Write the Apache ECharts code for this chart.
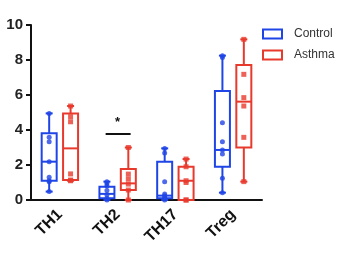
<!DOCTYPE html>
<html><head><meta charset="utf-8">
<script src="https://cdn.jsdelivr.net/npm/echarts@6/dist/echarts.min.js"></script>
<style>html,body{margin:0;padding:0;background:#fff}#c{width:345px;height:256px}</style>
</head><body><div id="c"></div>
<script>
const categories = ['TH1', 'TH2', 'TH17', 'Treg'];
// [min, Q1, median, Q3, max]
const controlStats = [
  [0.48, 1.1, 2.19, 3.81, 4.95],
  [0, 0.1, 0.35, 0.76, 1.05],
  [0, 0.1, 0.25, 2.19, 2.95],
  [0.42, 1.9, 2.86, 6.23, 8.25]
];
const asthmaStats = [
  [1.1, 1.14, 2.95, 4.95, 5.37],
  [0, 0.57, 0.95, 1.77, 3.0],
  [0, 0, 1.1, 1.9, 2.34],
  [1.05, 3.0, 5.62, 7.71, 9.18]
];
const controlPoints = [
  [4.95, 3.58, 3.33, 2.19, 1.3, 1.1, 1.05, 0.48],
  [1.05, 0.95, 0.8, 0.55, 0.3, 0.1, 0],
  [2.95, 2.68, 1.05, 0.35, 0.25, 0.15, 0.1, 0],
  [8.25, 8.15, 4.42, 3.33, 2.86, 2.63, 1.24, 0.42]
];
const asthmaPoints = [
  [5.37, 4.76, 4.47, 1.49, 1.14, 1.1],
  [3.0, 1.48, 1.2, 0.91, 0.57, 0],
  [2.34, 1.9, 1.1, 1.0, 0, 0],
  [9.18, 7.18, 5.85, 5.37, 3.58, 1.05]
];
const yTicks = [0, 2, 4, 6, 8, 10];
// significance annotation: [categoryIndex, barValue, label]
const sigMarks = [[1, 3.77, '*']];

const BLUE = '#1f45e6', RED = '#e8392d';
const OFF = 10.7;

function boxRenderer(offset, color) {
  return function (params, api) {
    const cat = api.value(0);
    const mn = api.value(1), q1 = api.value(2), md = api.value(3), q3 = api.value(4), mx = api.value(5);
    const cx = api.coord([cat, 0])[0] + offset;
    const y = v => api.coord([cat, v])[1];
    const hw = 7.5, cap = 3.5;
    const ls = { stroke: color, lineWidth: 2, fill: null };
    return {
      type: 'group',
      children: [
        { type: 'rect', shape: { x: cx - hw, y: y(q3), width: 2 * hw, height: Math.max(y(q1) - y(q3), 0.5) }, style: { stroke: color, lineWidth: 2, fill: 'none' } },
        { type: 'line', shape: { x1: cx - hw, y1: y(md), x2: cx + hw, y2: y(md) }, style: ls },
        { type: 'line', shape: { x1: cx, y1: y(q3), x2: cx, y2: y(mx) }, style: ls },
        { type: 'line', shape: { x1: cx, y1: y(q1), x2: cx, y2: y(mn) }, style: ls },
        { type: 'line', shape: { x1: cx - cap, y1: y(mx), x2: cx + cap, y2: y(mx) }, style: ls },
        { type: 'line', shape: { x1: cx - cap, y1: y(mn), x2: cx + cap, y2: y(mn) }, style: ls }
      ]
    };
  };
}

function pts(arr) {
  const out = [];
  arr.forEach((vals, i) => vals.forEach(v => out.push([i, v])));
  return out;
}

const chart = echarts.init(document.getElementById('c'), null, { renderer: 'canvas' });
chart.setOption({
  animation: false,
  grid: { left: 31, right: 83, top: 25, bottom: 56 },
  legend: {
    orient: 'vertical', left: 262, top: 28, itemGap: 9, padding: 0,
    itemWidth: 19, itemHeight: 9,
    textStyle: { fontFamily: 'Liberation Sans, Arial', fontSize: 12, color: '#333', padding: [0, 0, 0, 7] },
    data: [
      { name: 'Control', icon: 'rect', itemStyle: { color: '#fff', borderColor: BLUE, borderWidth: 2 } },
      { name: 'Asthma', icon: 'rect', itemStyle: { color: '#fff', borderColor: RED, borderWidth: 2 } }
    ]
  },
  xAxis: {
    type: 'category', data: categories,
    axisLine: { lineStyle: { color: '#111', width: 2 } },
    axisTick: { alignWithLabel: true, length: 5, lineStyle: { color: '#111', width: 2 } },
    axisLabel: { rotate: 45, margin: 12, fontFamily: 'Liberation Sans, Arial', fontWeight: 'bold', fontSize: 16, color: '#111' },
    splitLine: { show: false }
  },
  yAxis: {
    type: 'value', min: 0, max: 10, interval: 2,
    axisLine: { show: true, lineStyle: { color: '#111', width: 2 } },
    axisTick: { show: true, length: 5, lineStyle: { color: '#111', width: 2 } },
    axisLabel: { margin: 8, fontFamily: 'Liberation Sans, Arial', fontWeight: 'bold', fontSize: 15, color: '#222',
      formatter: v => yTicks.indexOf(v) >= 0 ? String(v) : '' },
    splitLine: { show: false }
  },
  series: [
    { name: 'Control', type: 'custom', itemStyle: { color: '#fff', borderColor: BLUE }, renderItem: boxRenderer(-OFF, BLUE),
      encode: { x: 0, y: [1, 2, 3, 4, 5] },
      data: controlStats.map((s, i) => [i].concat(s)), z: 2 },
    { name: 'Asthma', type: 'custom', itemStyle: { color: '#fff', borderColor: RED }, renderItem: boxRenderer(OFF, RED),
      encode: { x: 0, y: [1, 2, 3, 4, 5] },
      data: asthmaStats.map((s, i) => [i].concat(s)), z: 2 },
    { name: 'Control', type: 'scatter', symbol: 'circle', symbolSize: 5, symbolOffset: [-OFF, 0],
      itemStyle: { color: BLUE }, data: pts(controlPoints), z: 3 },
    { name: 'Asthma', type: 'scatter', symbol: 'rect', symbolSize: 5, symbolOffset: [OFF, 0],
      itemStyle: { color: RED }, data: pts(asthmaPoints), z: 3 },
    { name: 'sig', type: 'custom', data: sigMarks.map(s => [s[0], s[1], s[2]]),
      renderItem: function (params, api) {
        const p = api.coord([api.value(0), api.value(1)]);
        return { type: 'group', children: [
          { type: 'line', shape: { x1: p[0] - 12, y1: p[1], x2: p[0] + 13, y2: p[1] }, style: { stroke: '#111', lineWidth: 2 } },
          { type: 'text', style: { text: sigMarks[params.dataIndex][2], x: p[0], y: p[1] - 5, align: 'center', verticalAlign: 'bottom',
            font: 'bold 13px Liberation Sans, Arial', fill: '#111' } }
        ] };
      }, z: 4 }
  ]
});
</script></body></html>
